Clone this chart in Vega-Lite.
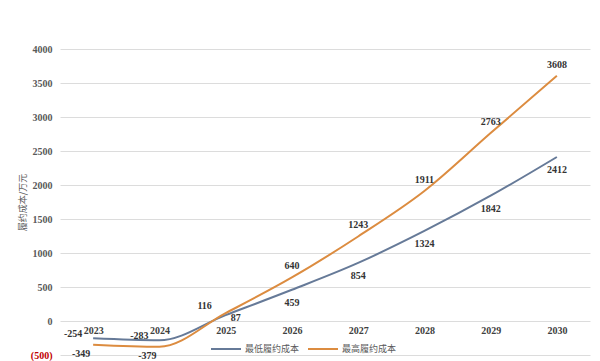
{
  "$schema": "https://vega.github.io/schema/vega-lite/v6.json",
  "width": 530,
  "height": 306,
  "autosize": "none",
  "padding": {"left": 60, "top": 49, "right": 10, "bottom": 6},
  "background": "white",
  "config": {"view": {"stroke": null}, "font": "Liberation Serif"},
  "data": {"values": [
    {"year": "2023", "series": "最低履约成本", "value": -254},
    {"year": "2024", "series": "最低履约成本", "value": -283},
    {"year": "2025", "series": "最低履约成本", "value": 87},
    {"year": "2026", "series": "最低履约成本", "value": 459},
    {"year": "2027", "series": "最低履约成本", "value": 854},
    {"year": "2028", "series": "最低履约成本", "value": 1324},
    {"year": "2029", "series": "最低履约成本", "value": 1842},
    {"year": "2030", "series": "最低履约成本", "value": 2412},
    {"year": "2023", "series": "最高履约成本", "value": -349},
    {"year": "2024", "series": "最高履约成本", "value": -379},
    {"year": "2025", "series": "最高履约成本", "value": 116},
    {"year": "2026", "series": "最高履约成本", "value": 640},
    {"year": "2027", "series": "最高履约成本", "value": 1243},
    {"year": "2028", "series": "最高履约成本", "value": 1911},
    {"year": "2029", "series": "最高履约成本", "value": 2763},
    {"year": "2030", "series": "最高履约成本", "value": 3608}
  ]},
  "encoding": {
    "x": {"field": "year", "type": "ordinal", "scale": {"type": "point", "padding": 0.5},
      "axis": {"title": null, "orient": "bottom", "offset": -34, "domain": false, "ticks": false, "labelAngle": 0,
        "labelFont": "Liberation Serif", "labelFontWeight": "bold", "labelFontSize": 10, "labelColor": "#404040", "labelPadding": 4}},
    "y": {"field": "value", "type": "quantitative",
      "scale": {"domain": [-500, 4000], "nice": false, "zero": false},
      "axis": {"title": "履约成本/万元", "titleFont": "Noto Sans CJK SC", "titleFontWeight": "normal", "titleFontSize": 9, "titleColor": "#595959", "titlePadding": 3,
        "values": [-500, 0, 500, 1000, 1500, 2000, 2500, 3000, 3500, 4000],
        "labelExpr": "datum.value < 0 ? '(' + abs(datum.value) + ')' : datum.label",
        "format": "d",
        "labelColor": {"condition": {"test": "datum.value < 0", "value": "#c00000"}, "value": "#595959"},
        "labelFont": "Liberation Serif", "labelFontWeight": "bold", "labelFontSize": 10, "labelPadding": 8,
        "domain": false, "ticks": false, "gridColor": "#dcdcdc", "gridWidth": 1}}
  },
  "layer": [
    {
      "mark": {"type": "line", "interpolate": "monotone", "strokeWidth": 2},
      "encoding": {
        "color": {"field": "series", "type": "nominal",
          "scale": {"domain": ["最低履约成本", "最高履约成本"], "range": ["#667a98", "#dc8c40"]},
          "legend": {"title": null, "orient": "none", "legendX": 150, "legendY": 284, "direction": "horizontal",
            "symbolType": "stroke", "symbolStrokeWidth": 2, "symbolSize": 900, "labelFont": "Noto Sans CJK SC", "labelFontSize": 9, "labelColor": "#595959", "columnPadding": 4, "labelOffset": 3}}
      }
    },
    {
      "transform": [{"filter": "datum.series == '最低履约成本' && toNumber(datum.year) >= 2026"}],
      "mark": {"type": "text", "dy": 13, "fontWeight": "bold", "fontSize": 10, "color": "#333"},
      "encoding": {"text": {"field": "value"}}
    },
    {
      "transform": [{"filter": "datum.series == '最低履约成本' && toNumber(datum.year) == 2025"}],
      "mark": {"type": "text", "dx": 10, "dy": 3, "fontWeight": "bold", "fontSize": 10, "color": "#333"},
      "encoding": {"text": {"field": "value"}}
    },
    {
      "transform": [{"filter": "datum.series == '最低履约成本' && toNumber(datum.year) <= 2024"}],
      "mark": {"type": "text", "dx": -20, "dy": -4, "fontWeight": "bold", "fontSize": 10, "color": "#333"},
      "encoding": {"text": {"field": "value"}}
    },
    {
      "transform": [{"filter": "datum.series == '最高履约成本' && toNumber(datum.year) >= 2026"}],
      "mark": {"type": "text", "dy": -11, "fontWeight": "bold", "fontSize": 10, "color": "#333"},
      "encoding": {"text": {"field": "value"}}
    },
    {
      "transform": [{"filter": "datum.series == '最高履约成本' && toNumber(datum.year) == 2025"}],
      "mark": {"type": "text", "dx": -21, "dy": -7, "fontWeight": "bold", "fontSize": 10, "color": "#333"},
      "encoding": {"text": {"field": "value"}}
    },
    {
      "transform": [{"filter": "datum.series == '最高履约成本' && toNumber(datum.year) <= 2024"}],
      "mark": {"type": "text", "dx": -12, "dy": 9, "fontWeight": "bold", "fontSize": 10, "color": "#333"},
      "encoding": {"text": {"field": "value"}}
    }
  ]
}
